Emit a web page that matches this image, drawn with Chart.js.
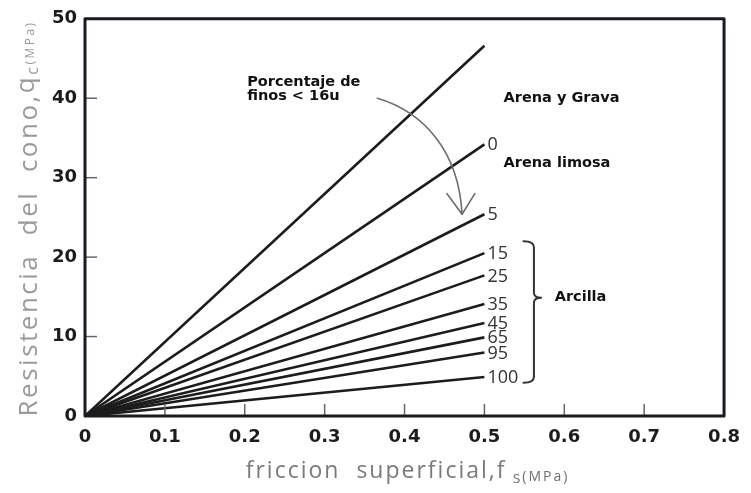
<!DOCTYPE html>
<html>
<head>
<meta charset="utf-8">
<script src="https://cdn.jsdelivr.net/npm/chart.js@4/dist/chart.umd.min.js"></script>
<style>
  html, body { margin: 0; padding: 0; background: #ffffff; }
  #wrap { width: 751px; height: 493px; }
</style>
</head>
<body>
<div id="wrap"><canvas id="c" width="751" height="493"></canvas></div>
<script>
// Cone resistance qc versus sleeve friction fs: straight lines from the origin,
// one per fines content (% finer than 16u), all ending at fs = 0.5 MPa.
const fsStart = 0;
const fsEnd = 0.5;
const finesLabels = ['', '0', '5', '15', '25', '35', '45', '65', '95', '100'];
const qcAtEnd = [46.6, 34.2, 25.4, 20.5, 17.7, 14.1, 11.7, 9.9, 8.0, 4.9];
const xTickValues = [0, 0.1, 0.2, 0.3, 0.4, 0.5, 0.6, 0.7, 0.8];
const xTickLabels = ['0', '0.1', '0.2', '0.3', '0.4', '0.5', '0.6', '0.7', '0.8'];
const yTickValues = [0, 10, 20, 30, 40, 50];
const yTickLabels = ['0', '10', '20', '30', '40', '50'];

const INK = '#1c1c1c';
const NOTE_FONT = 'bold 14.5px "DejaVu Sans", "Liberation Sans", sans-serif';
const NUM_FONT = '18px "Open Sans", "DejaVu Sans", sans-serif';
const TITLE_FAMILY = '"Open Sans", "DejaVu Sans", sans-serif';

const datasets = qcAtEnd.map((q, i) => ({
  label: finesLabels[i] || 'Arena y Grava',
  data: [{ x: fsStart, y: 0 }, { x: fsEnd, y: q }],
  showLine: true,
  borderColor: INK,
  borderWidth: 2.6,
  pointRadius: 0,
  fill: false
}));

// draw text made of several runs (for subscripts and small units)
function drawRuns(ctx, runs, x, y) {
  let total = 0;
  runs.forEach(r => { ctx.font = r.font; total += ctx.measureText(r.text).width; });
  let cx = x - total / 2;
  runs.forEach(r => {
    ctx.font = r.font;
    ctx.fillStyle = r.color;
    ctx.textAlign = 'left';
    ctx.textBaseline = 'alphabetic';
    ctx.fillText(r.text, cx, y + (r.dy || 0));
    cx += ctx.measureText(r.text).width;
  });
}

const decorations = {
  id: 'decorations',
  afterDatasetsDraw(chart) {
    const ctx = chart.ctx;
    const xs = chart.scales.x, ys = chart.scales.y;
    const a = chart.chartArea;
    const P = (fx, qy) => [xs.getPixelForValue(fx), ys.getPixelForValue(qy)];
    ctx.save();

    // inner tick marks
    ctx.strokeStyle = '#666';
    ctx.lineWidth = 1.5;
    xTickValues.forEach(v => {
      const px = xs.getPixelForValue(v);
      ctx.beginPath(); ctx.moveTo(px, a.bottom); ctx.lineTo(px, a.bottom - 12); ctx.stroke();
    });
    yTickValues.forEach(v => {
      const py = ys.getPixelForValue(v);
      ctx.beginPath(); ctx.moveTo(a.left, py); ctx.lineTo(a.left + 12, py); ctx.stroke();
    });

    // frame
    ctx.strokeStyle = '#1a1a22';
    ctx.lineWidth = 3;
    ctx.lineJoin = 'round';
    ctx.strokeRect(a.left, a.top, a.right - a.left, a.bottom - a.top);

    // fines-content numbers at line ends
    ctx.font = NUM_FONT;
    ctx.fillStyle = '#333';
    ctx.textAlign = 'left';
    ctx.textBaseline = 'middle';
    chart.data.datasets.forEach((ds, i) => {
      if (!finesLabels[i]) return;
      const end = ds.data[ds.data.length - 1];
      const [px, py] = P(end.x, end.y);
      ctx.fillText(finesLabels[i], px + 3, py + 1);
    });

    // soil-type notes
    ctx.font = NOTE_FONT;
    ctx.fillStyle = '#111';
    ctx.textBaseline = 'middle';
    const note = (t, fx, qy) => { const [px, py] = P(fx, qy); ctx.fillText(t, px, py); };
    note('Arena y Grava', 0.524, 40.0);
    note('Arena limosa', 0.524, 31.8);
    note('Arcilla', 0.588, 15.0);
    note('Porcentaje de', 0.203, 42.0);
    note('finos < 16u', 0.203, 40.3);

    // curved arrow sweeping toward lower fines content
    ctx.strokeStyle = '#6e6e6e';
    ctx.lineWidth = 1.6;
    ctx.lineCap = 'round';
    const s = P(0.366, 40.0), c1 = P(0.424, 38.3), c2 = P(0.468, 33.3), e = P(0.472, 25.4);
    ctx.beginPath();
    ctx.moveTo(s[0], s[1]);
    ctx.bezierCurveTo(c1[0], c1[1], c2[0], c2[1], e[0], e[1]);
    ctx.stroke();
    const w1 = P(0.453, 28.0), w2 = P(0.488, 28.0);
    ctx.beginPath();
    ctx.moveTo(w1[0], w1[1]); ctx.lineTo(e[0], e[1]); ctx.lineTo(w2[0], w2[1]);
    ctx.stroke();

    // brace grouping the clay lines
    ctx.strokeStyle = '#333';
    ctx.lineWidth = 2;
    const bl = xs.getPixelForValue(0.549), bx = xs.getPixelForValue(0.562), bp = xs.getPixelForValue(0.571);
    const bt = ys.getPixelForValue(22.0), bm = ys.getPixelForValue(14.9), bb = ys.getPixelForValue(4.2);
    ctx.beginPath();
    ctx.moveTo(bl, bt);
    ctx.quadraticCurveTo(bx, bt, bx, bt + 6);
    ctx.lineTo(bx, bm - 5);
    ctx.quadraticCurveTo(bx, bm, bp, bm);
    ctx.quadraticCurveTo(bx, bm, bx, bm + 5);
    ctx.lineTo(bx, bb - 6);
    ctx.quadraticCurveTo(bx, bb, bl, bb);
    ctx.stroke();

    // axis titles
    ctx.letterSpacing = '2px';
    const xc = (a.left + a.right) / 2 + 3;
    drawRuns(ctx, [
      { text: 'friccion  superficial,f', font: '23px ' + TITLE_FAMILY, color: '#7a7a7a' },
      { text: ' s', font: '16px ' + TITLE_FAMILY, color: '#7a7a7a', dy: 5 },
      { text: '(MPa)', font: '14px ' + TITLE_FAMILY, color: '#6e6e6e', dy: 3 }
    ], xc, 478);

    ctx.save();
    ctx.letterSpacing = '2.5px';
    ctx.translate(37, (a.top + a.bottom) / 2 + 1);
    ctx.rotate(-Math.PI / 2);
    drawRuns(ctx, [
      { text: 'Resistencia  del  cono,', font: '26px ' + TITLE_FAMILY, color: '#9a9a9a' },
      { text: 'q', font: '26px ' + TITLE_FAMILY, color: '#9a9a9a', dy: -3 },
      { text: 'c', font: '16px ' + TITLE_FAMILY, color: '#9a9a9a', dy: 1 },
      { text: '(MPa)', font: '12px ' + TITLE_FAMILY, color: '#9a9a9a', dy: -3 }
    ], 0, 0);
    ctx.restore();

    ctx.restore();
  }
};

new Chart(document.getElementById('c'), {
  type: 'scatter',
  data: { datasets },
  options: {
    responsive: false,
    devicePixelRatio: 1,
    animation: false,
    layout: { padding: { left: 0, right: 22, top: 17, bottom: 0 } },
    plugins: { legend: { display: false }, tooltip: { enabled: false } },
    scales: {
      x: {
        type: 'linear', min: 0, max: 0.8,
        afterBuildTicks: s => { s.ticks = xTickValues.map(v => ({ value: v })); },
        afterFit: s => { s.height = 77; },
        grid: { display: false, drawTicks: false },
        border: { display: false },
        ticks: {
          padding: 11,
          color: INK,
          font: { family: '"DejaVu Sans", "Liberation Sans", sans-serif', size: 18, weight: 'bold' },
          callback: (v, i) => xTickLabels[i]
        }
      },
      y: {
        type: 'linear', min: 0, max: 50,
        afterBuildTicks: s => { s.ticks = yTickValues.map(v => ({ value: v })); },
        afterFit: s => { s.width = 85; },
        grid: { display: false, drawTicks: false },
        border: { display: false },
        ticks: {
          padding: 8,
          color: INK,
          font: { family: '"DejaVu Sans", "Liberation Sans", sans-serif', size: 18, weight: 'bold' },
          callback: (v, i) => yTickLabels[i]
        }
      }
    }
  },
  plugins: [decorations]
});
</script>
</body>
</html>
